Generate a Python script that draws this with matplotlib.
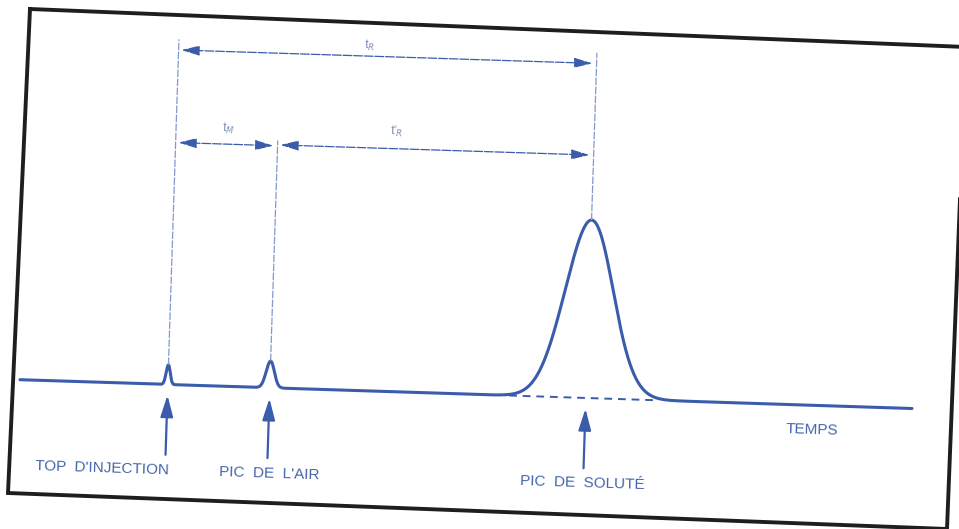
import numpy as np
import matplotlib
matplotlib.use("Agg")
import matplotlib.pyplot as plt
from matplotlib.transforms import Affine2D
from matplotlib.lines import Line2D

# ---- chromatogram data -------------------------------------------------
peak_labels = ["TOP  D'INJECTION", "PIC  DE  L'AIR", "PIC  DE  SOLUTÉ"]
peak_times = [1.45, 2.45, 5.55]        # injection mark, air (dead time), solute
peak_heights = [11.0, 15.0, 100.0]
peak_sigmas = [0.02, 0.04, 0.235]
run_start, run_end = 0.0, 8.75
axis_label = "TEMPS"

# intervals measured between peaks: (label, start peak, end peak, level)
interval_labels = ["t$_R$", "t$_M$", "t'$_R$"]
interval_from = [0, 0, 1]
interval_to = [2, 1, 2]
interval_levels = [188.0, 136.0, 136.5]
interval_label_levels = [194.0, 145.0, 146.0]
interval_label_times = [3.32, 1.96, 3.61]
guide_tops = [194.0, 139.0, 194.0]     # how far the vertical guides rise

plt.rcParams["mathtext.fontset"] = "dejavusans"

W, H = 959, 529
fig = plt.figure(figsize=(W / 100, H / 100), dpi=100)
fig.patch.set_facecolor("white")
ax = fig.add_axes([0, 0, 1, 1])
ax.set_xlim(-0.235, 9.167)
ax.set_ylim(-75.56, 221.6)
ax.axis("off")

# the printed sheet sits slightly askew
tilt = -1.85
trans = ax.transData + Affine2D().rotate_deg_around(480, 265, tilt)

line_c = "#3a5cab"
text_c = "#4466ac"
thin_c = "#8299cb"

# ---- signal trace --------------------------------------------------------
t = np.linspace(run_start, run_end, 6000)
signal = np.zeros_like(t)
for tc, h, sg in zip(peak_times, peak_heights, peak_sigmas):
    signal += h * np.exp(-0.5 * ((t - tc) / sg) ** 2)
ax.plot(t, signal, color=line_c, lw=2.2, transform=trans, solid_capstyle="round")

# dashed baseline under the solute peak
sol_t, sol_s = peak_times[2], peak_sigmas[2]
ax.plot([sol_t - 3.2 * sol_s, sol_t + 3.0 * sol_s], [0, 0], color=line_c, lw=1.4,
        ls=(0, (4, 3)), transform=trans)

# ---- vertical guides from peak tops -------------------------------------
for tc, h, top in zip(peak_times, peak_heights, guide_tops):
    ax.plot([tc, tc], [h, top], color=thin_c, lw=0.9, ls=(0, (6, 1.2)),
            transform=trans)

# ---- interval arrows -----------------------------------------------------
for lab, i0, i1, lev, llev, lt in zip(interval_labels, interval_from, interval_to,
                                       interval_levels, interval_label_levels,
                                       interval_label_times):
    ax.annotate("", xy=(peak_times[i1], lev), xytext=(peak_times[i0], lev),
                xycoords=trans, textcoords=trans,
                arrowprops=dict(arrowstyle="<|-|>,head_length=1.1,head_width=0.3",
                                color=line_c, lw=0.9, ls=(0, (7, 1.5)),
                                shrinkA=2, shrinkB=3, mutation_scale=10))
    ax.text(lt, llev, lab, transform=trans, rotation=tilt, color="#7f8fb5",
            fontsize=8.5, ha="center", va="center",
            family=["Liberation Sans", "DejaVu Sans"])

# ---- peak markers and names ----------------------------------------------
for tc, lab in zip(peak_times, peak_labels):
    ax.annotate("", xy=(tc, -6.0), xytext=(tc, -39.5),
                xycoords=trans, textcoords=trans,
                arrowprops=dict(arrowstyle="-|>,head_length=1.3,head_width=0.38",
                                color=line_c, lw=1.6, shrinkA=0, shrinkB=0,
                                mutation_scale=10))
label_times = [0.83, 2.47, 5.54]
for lt, lab in zip(label_times, peak_labels):
    ax.text(lt, -48.0, lab, transform=trans, rotation=tilt, color=text_c,
            fontsize=11, ha="center", va="center",
            family=["Liberation Sans", "DejaVu Sans"])

ax.text(7.78, -14.0, axis_label, transform=trans, rotation=tilt, color=text_c,
        fontsize=11, ha="center", va="center",
        family=["Liberation Sans", "DejaVu Sans"])

# ---- sheet border ---------------------------------------------------------
corners = [(30, 9), (966, 47), (947, 529), (8, 493), (30, 9)]
bx = [c[0] / W for c in corners]
by = [1 - c[1] / H for c in corners]
fig.add_artist(Line2D(bx, by, transform=fig.transFigure, color="#1e1e1e",
                      lw=2.8, solid_joinstyle="miter"))

fig.savefig("out.png", dpi=100, facecolor="white")
